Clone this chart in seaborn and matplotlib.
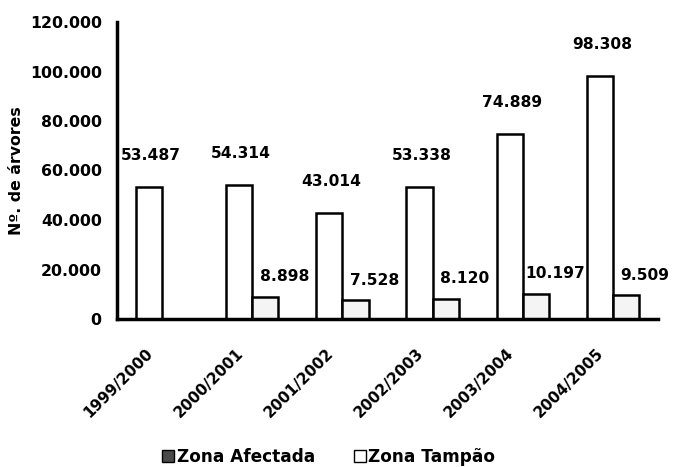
import matplotlib
matplotlib.use("Agg")
import matplotlib.pyplot as plt
import seaborn as sns
import pandas as pd
from matplotlib.patches import Patch
from matplotlib.ticker import FuncFormatter, FixedLocator
from matplotlib.transforms import ScaledTranslation

years = ["1999/2000", "2000/2001", "2001/2002", "2002/2003", "2003/2004", "2004/2005"]
tampao = [53487, 54314, 43014, 53338, 74889, 98308]
afectada = [None, 8898, 7528, 8120, 10197, 9509]
series_names = ["Série A", "Série B"]
legend_labels = ["Zona Afectada", "Zona Tampão"]

rows = []
for y, a, b in zip(years, tampao, afectada):
    rows.append({"ano": y, "serie": series_names[0], "valor": a})
    if b is not None:
        rows.append({"ano": y, "serie": series_names[1], "valor": b})
df = pd.DataFrame(rows)

sns.set_theme(style="white")
plt.rcParams['font.family'] = ['DejaVu Sans']
plt.rcParams['font.weight'] = 'bold'
plt.rcParams['text.color'] = 'black'
plt.rcParams['axes.labelcolor'] = 'black'
plt.rcParams['xtick.color'] = 'black'
plt.rcParams['ytick.color'] = 'black'

fig = plt.figure(figsize=(6.74, 4.67), dpi=100)
ax = fig.add_axes([117/674, 1-319/467, (658-117)/674, (319-22)/467])

sns.barplot(data=df, x="ano", y="valor", hue="serie", order=years,
            hue_order=series_names, palette=["#ffffff", "#f4f4f4"],
            edgecolor="black", linewidth=1.8, width=0.58, ax=ax,
            legend=False, errorbar=None)

ax.set_ylim(0, 120000)
ax.set_xlim(-0.5, len(years) - 0.5)
ax.set_yticks(range(0, 120001, 20000))
ax.yaxis.set_major_formatter(FuncFormatter(lambda v, p: f"{int(v):,}".replace(",", ".")))

# category labels at centers, tick marks at boundaries
ax.set_xticks(range(len(years)))
ax.set_xticklabels(years, rotation=45, ha="right", rotation_mode="anchor",
                   fontsize=11, fontweight="bold")
ax.xaxis.set_minor_locator(FixedLocator([i - 0.5 for i in range(len(years) + 1)]))
ax.tick_params(axis="x", which="major", length=0, pad=19)
ax.tick_params(axis="x", which="minor", length=6, width=2.5, direction="out")
ax.tick_params(axis="y", length=7, width=2.5, direction="out",
               labelsize=11.3, pad=4)
for lab in ax.get_yticklabels():
    lab.set_fontweight("bold")
shift = ScaledTranslation(-17/100, 0, fig.dpi_scale_trans)
for lab in ax.get_xticklabels():
    lab.set_transform(lab.get_transform() + shift)

for s in ["top", "right"]:
    ax.spines[s].set_visible(False)
for s in ["left", "bottom"]:
    ax.spines[s].set_linewidth(2.5)
    ax.spines[s].set_color("black")

ax.set_xlabel("")
ax.set_ylabel("Nº. de árvores", fontsize=11.3, fontweight="bold", labelpad=4)

# value labels
containers = ax.containers
for bar, v in zip(containers[0], tampao):
    x = bar.get_x() + bar.get_width() / 2
    ax.annotate(f"{v:,}".replace(",", "."), (x, v), xytext=(2, 31),
                textcoords="offset pixels", ha="center", va="center",
                fontsize=11.2, fontweight="bold")
vals_b = [b for b in afectada if b is not None]
for bar, v in zip(containers[1], vals_b):
    x = bar.get_x() + bar.get_width() / 2
    ax.annotate(f"{v:,}".replace(",", "."), (x, v), xytext=(19, 20),
                textcoords="offset pixels", ha="center", va="center",
                fontsize=11.2, fontweight="bold")

handles = [Patch(facecolor="#4a4a4a", edgecolor="black", linewidth=1.0),
           Patch(facecolor="#ffffff", edgecolor="black", linewidth=1.0)]
fig.legend(handles, legend_labels, loc="center", bbox_to_anchor=(0.488, 0.022),
           ncol=2, frameon=False, handlelength=0.7, handleheight=0.7,
           handletextpad=0.15, columnspacing=2.3,
           prop={"size": 12.2, "weight": "bold"})

fig.savefig("out.png", dpi=100)
